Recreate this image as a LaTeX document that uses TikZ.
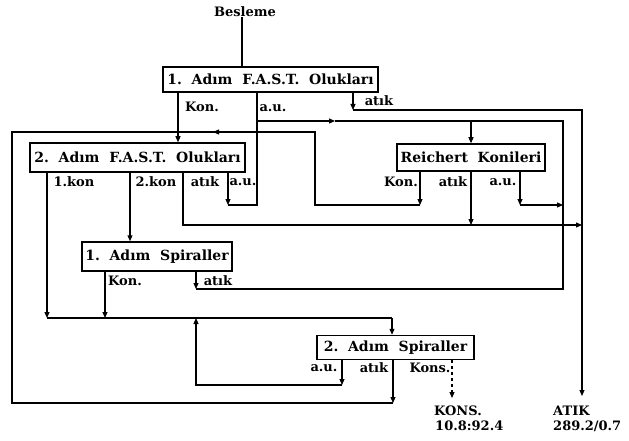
\documentclass[tikz,border=0pt]{standalone}
\usepackage{fontspec}
\setmainfont{DejaVu Serif}
\usetikzlibrary{arrows.meta}
\begin{document}
\begin{tikzpicture}[x=1pt,y=-1pt,
  ln/.style={line width=1.1pt},
  arr/.style={ln,-{Triangle[length=6pt,width=5pt]}},
  box/.style={draw,line width=1.5pt,inner sep=0pt,font=\fontsize{14}{16}\selectfont\bfseries},
  lbl/.style={inner sep=0pt,font=\fontsize{13}{15}\selectfont\bfseries}]
\useasboundingbox (0,0) rectangle (629,441);
% nodes
\node[lbl] (bes) at (245,12) {Besleme};
\node[box,minimum width=215pt,minimum height=25pt] (f1) at (270.5,79.5) {1.\ \ Adım\ \ F.A.S.T.\ \ Olukları};
\node[box,minimum width=215pt,minimum height=29pt] (f2) at (137.5,157.5) {2.\ \ Adım\ \ F.A.S.T.\ \ Olukları};
\node[box,minimum width=148pt,minimum height=27pt] (rk) at (471,157.5) {Reichert\ \ Konileri};
\node[box,minimum width=150pt,minimum height=29pt] (s1) at (157,256.5) {1.\ \ Adım\ \ Spiraller};
\node[box,minimum width=157pt,minimum height=24pt] (s2) at (395.5,347.5) {2.\ \ Adım\ \ Spiraller};
% labels
\node[lbl] (l1) at (202,107) {Kon.};
\node[lbl] (l2) at (273,108) {a.u.};
\node[lbl] (l3) at (379,101) {atık};
\node[lbl] (l4) at (74,182) {1.kon};
\node[lbl] (l5) at (156,182) {2.kon};
\node[lbl] (l6) at (205,182) {atık};
\node[lbl] (l7) at (243,182) {a.u.};
\node[lbl] (l8) at (401,182) {Kon.};
\node[lbl] (l9) at (453,182) {atık};
\node[lbl] (l10) at (503,182) {a.u.};
\node[lbl] (l11) at (125,281) {Kon.};
\node[lbl] (l12) at (218,281) {atık};
\node[lbl] (l13) at (324,368) {a.u.};
\node[lbl] (l14) at (374,368) {atık};
\node[lbl] (l15) at (430,368) {Kons.};
\node[lbl,anchor=west] (kons) at (434,411) {KONS.};
\node[lbl,anchor=west] (konsv) at (435,426) {10.8:92.4};
\node[lbl,anchor=west] (atik) at (553,411) {ATIK};
\node[lbl,anchor=west] (atikv) at (553,426) {289.2/0.7};
% coordinates
\coordinate (cBes) at (242,0);
\coordinate (cK1) at (178,0);
\coordinate (cU1) at (257,0);
\coordinate (cA1) at (353,0);
\coordinate (cK21) at (47,0);
\coordinate (cK22) at (130,0);
\coordinate (cA2) at (183,0);
\coordinate (cU2) at (228,0);
\coordinate (cRK) at (420,0);
\coordinate (cRA) at (471,0);
\coordinate (cRU) at (520,0);
\coordinate (cS1K) at (105,0);
\coordinate (cS1A) at (196,0);
\coordinate (cS2U) at (342,0);
\coordinate (cS2A) at (393,0);
\coordinate (cS2K) at (452,0);
\coordinate (cS2in) at (392,0);
\coordinate (a1b) at (353,110);
\coordinate (a1c) at (582,110);
\coordinate (atEnd) at (582,396);
\coordinate (u1a) at (257,121);
\coordinate (u1m) at (335,121);
\coordinate (u1r) at (471,121);
\coordinate (u1e) at (563,121);
\coordinate (u1b) at (257,205);
\coordinate (u2b) at (228,205);
\coordinate (ru1) at (520,205);
\coordinate (ru2) at (563,205);
\coordinate (s1a1) at (196,289);
\coordinate (s1a2) at (563,289);
\coordinate (rk1) at (420,205);
\coordinate (rk2) at (315,205);
\coordinate (rk3) at (315,132);
\coordinate (rk4) at (213,132);
\coordinate (kj) at (178,132);
\coordinate (lf1) at (393,403);
\coordinate (lf2) at (12,403);
\coordinate (lf3) at (12,132);
\coordinate (a2b) at (183,225);
\coordinate (a2e) at (582,225);
\coordinate (ra1) at (471,225);
\coordinate (c1) at (47,318);
\coordinate (c2) at (105,318);
\coordinate (c3) at (392,318);
\coordinate (c4) at (196,318);
\coordinate (su1) at (342,385);
\coordinate (su2) at (196,385);
\coordinate (ksEnd) at (452,398);
% connectors
\draw[ln] (bes.south -| cBes) -- (f1.north -| cBes);
\draw[arr] (f1.south -| cA1) -- (a1b);
\draw[arr] (a1b) -- (a1c) -- (atEnd);
\draw[arr] (f1.south -| cK1) -- (f2.north -| cK1);
\draw[ln] (f1.south -| cU1) -- (u1b) -- (u2b);
\draw[arr] (f2.south -| cU2) -- (u2b);
\draw[arr] (u1a) -- (u1m);
\draw[ln] (u1m) -- (u1e) -- (s1a2) -- (s1a1);
\draw[arr] (u1r) -- (rk.north -| cRA);
\draw[arr] (s1.south -| cS1A) -- (s1a1);
\draw[arr] (rk.south -| cRU) -- (ru1);
\draw[arr] (ru1) -- (ru2);
\draw[arr] (rk.south -| cRK) -- (rk1);
\draw[ln] (rk1) -- (rk2) -- (rk3) -- (kj);
\draw[arr] (rk3) -- (rk4);
\draw[arr] (s2.south -| cS2A) -- (lf1);
\draw[ln] (lf1) -- (lf2) -- (lf3) -- (kj);
\draw[arr] (f2.south -| cA2) -- (a2b) -- (a2e);
\draw[arr] (rk.south -| cRA) -- (ra1);
\draw[arr] (f2.south -| cK21) -- (c1);
\draw[arr] (f2.south -| cK22) -- (s1.north -| cK22);
\draw[arr] (s1.south -| cS1K) -- (c2);
\draw[ln] (c1) -- (c3);
\draw[arr] (c3) -- (s2.north -| cS2in);
\draw[arr] (s2.south -| cS2U) -- (su1);
\draw[arr] (su1) -- (su2) -- (c4);
\draw[arr,dashed] (s2.south -| cS2K) -- (ksEnd);
\end{tikzpicture}
\end{document}
